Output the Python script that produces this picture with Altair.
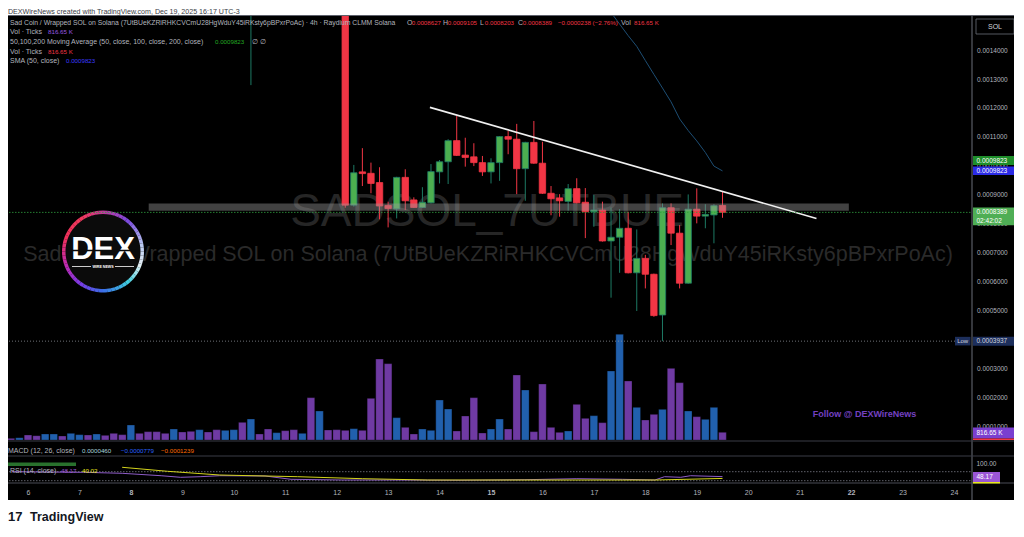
import altair as alt
import pandas as pd

# ------------------------------------------------------------------ data
# 4h candles, first visible candle = Dec 12 04:00, one candle every 1/6 day
first_candle_day = 12 + 4 / 24
candle_open = [0.001600, 0.000864, 0.000979, 0.000974, 0.000942, 0.000863, 0.000851, 0.000960, 0.000882, 0.000856,
               0.000872, 0.000979, 0.001014, 0.001087, 0.001037, 0.001031, 0.001011, 0.000979, 0.001011, 0.001101,
               0.001092, 0.000990, 0.001081, 0.001009, 0.000905, 0.000889, 0.000877, 0.000921, 0.000874, 0.000841,
               0.000847, 0.000740, 0.000753, 0.000784, 0.000630, 0.000680, 0.000625, 0.000484, 0.000855, 0.000767,
               0.000594, 0.000850, 0.000826, 0.000830, 0.0008627]
candle_high = [0.001640, 0.001003, 0.001061, 0.001011, 0.000995, 0.000876, 0.000962, 0.000988, 0.000891, 0.000926,
               0.001006, 0.001020, 0.001092, 0.001172, 0.001097, 0.001078, 0.001034, 0.001026, 0.001103, 0.001121,
               0.001145, 0.001083, 0.001155, 0.001083, 0.000930, 0.000902, 0.000937, 0.000957, 0.000923, 0.000899,
               0.000876, 0.000856, 0.000850, 0.000841, 0.000780, 0.000692, 0.000627, 0.000870, 0.000870, 0.000795,
               0.000901, 0.000922, 0.000867, 0.000867, 0.0009105]
candle_low = [0.000855, 0.000859, 0.000930, 0.000905, 0.000815, 0.000787, 0.000818, 0.000847, 0.000855, 0.000854,
              0.000870, 0.000939, 0.000937, 0.001034, 0.000997, 0.000999, 0.000965, 0.000939, 0.000948, 0.001040,
              0.000902, 0.000879, 0.001007, 0.000903, 0.000829, 0.000824, 0.000845, 0.000870, 0.000750, 0.000789,
              0.000738, 0.000544, 0.000630, 0.000628, 0.000498, 0.000576, 0.000478, 0.0003937, 0.000726, 0.000576,
              0.000592, 0.000801, 0.000784, 0.000732, 0.0008203]
candle_close = [0.000864, 0.000976, 0.000973, 0.000939, 0.000861, 0.000852, 0.000960, 0.000879, 0.000856, 0.000874,
                0.000980, 0.001014, 0.001087, 0.001036, 0.001029, 0.001011, 0.000979, 0.001011, 0.001101, 0.001092,
                0.000990, 0.001081, 0.001009, 0.000905, 0.000886, 0.000879, 0.000921, 0.000872, 0.000841, 0.000847,
                0.000740, 0.000753, 0.000784, 0.000630, 0.000680, 0.000625, 0.000482, 0.000855, 0.000767, 0.000594,
                0.000850, 0.000826, 0.000832, 0.000862, 0.0008389]

# earlier candle whose lower wick pokes into view (Dec 10 08:00)
early_day = [10 + 8 / 24]
early_open = [0.00170]
early_high = [0.00178]
early_low = [0.001279]
early_close = [0.00176]

# volume (K), 84 bars, last bar = last candle
volume_k = [177, 247, 530, 459, 636, 636, 424, 707, 565, 530,
            636, 495, 707, 565, 1590, 707, 883, 883, 707, 1166,
            848, 919, 1095, 848, 1095, 1025, 1095, 1873, 2226, 636,
            1166, 777, 989, 1095, 707, 4487, 3074, 1060, 1095, 1025,
            1201, 1025, 4417, 8586, 8091, 2367, 1343, 636, 1166, 1025,
            4240, 3286, 954, 2544, 4487, 742, 1166, 2226, 1166, 6890,
            5300, 883, 5936, 1343, 813, 954, 3781, 2297, 2579, 1837,
            7314, 11201, 6254, 3463, 2120, 2721, 3251, 7597, 6077, 3074,
            2473, 2191, 3463, 816.65]
volume_kind = list("PBPPBBPBBP" "BPPPBPPPPB" "PPBPPBBPBP" "PBPPBPBPPP" "BPPPPBPPBB"
                   "BBPPPPBBPP" "BPPPPBPPBP" "BBPBPPBPPB" "PBBP")

# SMA(50)
sma_day = [17.333, 17.5, 17.667, 17.833, 18.0, 18.167, 18.333, 18.5, 18.667, 18.833, 19.0, 19.167, 19.333, 19.5]
sma_val = [0.001530, 0.001490, 0.001450, 0.001413, 0.001364, 0.001316, 0.001269, 0.001221, 0.001162, 0.001122,
           0.001086, 0.001046, 0.000999, 0.0009823]

# drawn trend line and support band
trend_day = [13.813, 21.327]
trend_val = [0.001202, 0.000818]
band_day = [8.346, 21.956]
band_val = [0.000845, 0.000870]

last_price = 0.0008389
low_price = 0.0003937

# RSI pane
rsi_day = [5.685, 6.315, 7.073, 7.831, 8.588, 8.967, 9.346, 9.725, 10.608, 11.113, 12.123, 13.135,
           14.396, 15.66, 16.669, 17.554, 18.185, 18.373, 18.688, 18.879, 19.5]
rsi_val = [70.0, 68.7, 67.3, 62.9, 52.2, 45.1, 47.8, 52.2, 50.9, 36.2, 33.1, 33.1,
           31.8, 34.4, 38.9, 36.2, 33.1, 47.8, 45.1, 52.2, 48.17]
rsima_day = [7.83, 8.71, 9.73, 11.24, 12.5, 13.77, 15.66, 17.55, 18.19, 19.5]
rsima_val = [89.6, 71.8, 55.3, 47.8, 38.9, 33.1, 33.1, 33.1, 33.1, 40.02]

day_ticks = list(range(6, 25))
price_ticks = [0.0001, 0.0002, 0.0003, 0.0004, 0.0005, 0.0006, 0.0007, 0.0008, 0.0009, 0.0010,
               0.0011, 0.0012, 0.0013, 0.0014]

# ------------------------------------------------------------------ style
W, H = 1006, 516
FONT = "Liberation Sans"
GRAY = "#b2b5be"
RED = "#f23645"
GREEN = "#4caf50"
WICK_UP = "#1d7a64"
PURPLE = "#6f3aa3"
BLUE = "#2160ad"


def cx(px):
    return px - 8


def cy(py):
    return py - 8


PRICE_PX_PER_UNIT = 289200.0


def price_y(p):  # page y of a price (mirrors the price scale) for label boxes
    return 455 - p * PRICE_PX_PER_UNIT


xs = alt.Scale(domain=[6, 24], range=[15, 951], nice=False, zero=False)
ps = alt.Scale(domain=[0, 0.0014], range=[447, 447 - 0.0014 * PRICE_PX_PER_UNIT], nice=False, zero=False)
vs = alt.Scale(domain=[0, 10600], range=[432, 332], nice=False, zero=False)
rs = alt.Scale(domain=[30, 100], range=[472.7, 456.95], nice=False, zero=False)

xaxis = alt.Axis(orient="bottom", offset=-(H - 475), values=day_ticks, format="d", title=None,
                 domain=False, ticks=False, grid=False, labelFlush=False, labelOverlap=False,
                 labelColor=GRAY, labelFontSize=7, labelFont=FONT, labelPadding=5,
                 labelFontWeight={"condition": {"test": "datum.value == 8 || datum.value == 15 || datum.value == 22",
                                                "value": "bold"}, "value": "normal"})
paxis = alt.Axis(orient="right", offset=-42, values=price_ticks, format=".7f", title=None,
                 domain=False, ticks=False, grid=False, labelOverlap=False, labelFlush=False,
                 labelColor=GRAY, labelFontSize=6.5, labelFont=FONT, labelPadding=4.5, labelAlign="left")


def X(field):
    return alt.X(field, type="quantitative", scale=xs, axis=xaxis)


ONE = pd.DataFrame({"k": [0]})


def txt(s, x, y, size=7.0, color=GRAY, align="left", weight="normal", font=FONT, baseline="middle"):
    return alt.Chart(ONE).mark_text(text=s, align=align, baseline=baseline, fontSize=size, font=font,
                                    fontWeight=weight, color=color).encode(
        x=alt.value(cx(x)), y=alt.value(cy(y)))


def box(x1, y1, x2, y2, fill, opacity=1.0, stroke=None, sw=0):
    kw = dict(fill=fill, opacity=opacity)
    if stroke:
        kw.update(stroke=stroke, strokeWidth=sw)
    return alt.Chart(ONE).mark_rect(**kw).encode(
        x=alt.value(cx(x1)), x2=alt.value(cx(x2)), y=alt.value(cy(y1)), y2=alt.value(cy(y2)))


def hline(x1, x2, y, color, width=1.0, dash=None):
    kw = dict(color=color, strokeWidth=width)
    if dash:
        kw["strokeDash"] = dash
    return alt.Chart(ONE).mark_rule(**kw).encode(
        x=alt.value(cx(x1)), x2=alt.value(cx(x2)), y=alt.value(cy(y)))


def vline(x, y1, y2, color, width=1.0):
    return alt.Chart(ONE).mark_rule(color=color, strokeWidth=width).encode(
        x=alt.value(cx(x)), y=alt.value(cy(y1)), y2=alt.value(cy(y2)))


# ------------------------------------------------------------------ tables
candles = pd.DataFrame({
    "day": early_day + [first_candle_day + j / 6 for j in range(len(candle_open))],
    "open": early_open + candle_open,
    "high": early_high + candle_high,
    "low": early_low + candle_low,
    "close": early_close + candle_close,
})
vol = pd.DataFrame({
    "day": [19.5 - (len(volume_k) - 1 - i) / 6 for i in range(len(volume_k))],
    "vol": volume_k,
    "kind": volume_kind,
})
sma = pd.DataFrame({"day": sma_day, "v": sma_val})
trend = pd.DataFrame({"day": trend_day, "v": trend_val})
band = pd.DataFrame({"d1": [band_day[0]], "d2": [band_day[1]], "p1": [band_val[0]], "p2": [band_val[1]]})
rsi = pd.DataFrame({"day": rsi_day, "v": rsi_val})
rsima = pd.DataFrame({"day": rsima_day, "v": rsima_val})

up = "datum.close >= datum.open"

layers = []

# watermark
layers.append(txt("SADSOL_7UTBUE", 487, 212, size=46, color="#262626", align="center"))
layers.append(txt("Sad Coin / Wrapped SOL on Solana (7UtBUeKZRiRHKCVCmU28HgWduY45iRKsty6pBPxrPoAc)",
                  488, 255, size=21.5, color="#2a2a2a", align="center"))

# DEX logo
ring_keys = [(0, (0xc0, 0x3a, 0x9a)), (40, (0x7a, 0x4a, 0xe0)), (80, (0xb8, 0xc8, 0xf0)), (110, (0xe6, 0xf0, 0xf5)),
             (140, (0x40, 0xd0, 0xe0)), (180, (0x3a, 0x6e, 0xe6)), (215, (0x7a, 0x3a, 0xe6)),
             (250, (0xc0, 0x2a, 0xb0)), (290, (0xf0, 0x30, 0x5a)), (330, (0xf0, 0x3a, 0x5e)), (360, (0xc0, 0x3a, 0x9a))]


def ring_color(a):
    for (a0, c0), (a1, c1) in zip(ring_keys[:-1], ring_keys[1:]):
        if a0 <= a <= a1:
            t = (a - a0) / (a1 - a0)
            return "#%02x%02x%02x" % tuple(int(round(c0[k] + (c1[k] - c0[k]) * t)) for k in range(3))
    return "#c03a9a"


NSEG = 60
ring = pd.DataFrame({"i": list(range(NSEG)), "v": [1] * NSEG,
                     "c": [ring_color((i + 0.5) * 360 / NSEG) for i in range(NSEG)]})
layers.append(alt.Chart(ONE).mark_point(shape="circle", filled=True, color="#0b0b0b", opacity=1, size=80 * 80)
              .encode(x=alt.value(cx(103)), y=alt.value(cy(251.5))))
layers.append(alt.Chart(ring).mark_arc(innerRadius=37.5, outerRadius=41, padAngle=0).encode(
    theta=alt.Theta("v:Q", stack=True), order=alt.Order("i:Q"), fill=alt.Fill("c:N", scale=None),
    x=alt.value(cx(103)), y=alt.value(cy(251.5))))
layers.append(txt("DEX", 103, 249.5, size=31, color="white", align="center", weight="bold"))
layers.append(hline(70, 136, 250.5, "#0b0b0b", width=1.6))
layers.append(hline(72, 91, 266.5, "white", width=0.8))
layers.append(hline(115, 134, 266.5, "white", width=0.8))
layers.append(txt("WIRE NEWS", 103, 266.7, size=3.6, color="white", align="center", weight="bold"))

# volume
layers.append(alt.Chart(vol).mark_bar(size=7.6, stroke="#000000", strokeWidth=0.3).encode(
    x=X("day"), y=alt.Y("vol:Q", scale=vs, axis=None), y2=alt.datum(0),
    color=alt.Color("kind:N", scale=alt.Scale(domain=["P", "B"], range=[PURPLE, BLUE]), legend=None)))

# candles
layers.append(alt.Chart(candles).mark_rule(clip=True, strokeWidth=1).encode(
    x=X("day"), y=alt.Y("low:Q", scale=ps, axis=paxis), y2="high:Q",
    color=alt.condition(up, alt.value(WICK_UP), alt.value(RED))))
layers.append(alt.Chart(candles).mark_bar(size=6.4, clip=True, strokeWidth=0.8).encode(
    x=X("day"), y=alt.Y("open:Q", scale=ps, axis=None), y2="close:Q",
    fill=alt.condition(up, alt.value(GREEN), alt.value(RED)),
    stroke=alt.condition(up, alt.value(WICK_UP), alt.value(RED))))

# support band
layers.append(alt.Chart(band).mark_rect(fill="#9e9e9e", opacity=0.42).encode(
    x=X("d1"), x2="d2", y=alt.Y("p1:Q", scale=ps, axis=None), y2="p2:Q"))

# SMA + trend line
layers.append(alt.Chart(sma).mark_line(clip=True, strokeWidth=1, color="#1d4e74").encode(
    x=X("day"), y=alt.Y("v:Q", scale=ps, axis=None)))
layers.append(alt.Chart(trend).mark_line(strokeWidth=1.6, color="#f0f0f0").encode(
    x=X("day"), y=alt.Y("v:Q", scale=ps, axis=None)))

# price lines
layers.append(alt.Chart(pd.DataFrame({"p": [last_price]})).mark_rule(color="#2e9e3e", strokeWidth=0.8,
                                                                     strokeDash=[1.5, 1.5]).encode(
    y=alt.Y("p:Q", scale=ps, axis=None), x=alt.value(cx(6)), x2=alt.value(cx(972))))
layers.append(alt.Chart(pd.DataFrame({"p": [low_price]})).mark_rule(color="#8a8d96", strokeWidth=0.8,
                                                                    strokeDash=[1, 2]).encode(
    y=alt.Y("p:Q", scale=ps, axis=None), x=alt.value(cx(6)), x2=alt.value(cx(955))))

# RSI pane
layers.append(hline(6, 972, 471.7, "#787b86", width=0.8, dash=[1.5, 1.5]))
layers.append(hline(6, 972, 480.7, "#787b86", width=0.8, dash=[1.5, 1.5]))
layers.append(box(7, 462.5, 76, 466, "#2e7d32", opacity=0.9))
layers.append(alt.Chart(rsi).mark_line(strokeWidth=1, color="#8e5cc8").encode(
    x=X("day"), y=alt.Y("v:Q", scale=rs, axis=None)))
layers.append(alt.Chart(rsima).mark_line(strokeWidth=1, color="#d4d41c").encode(
    x=X("day"), y=alt.Y("v:Q", scale=rs, axis=None)))

# separators / frame
layers.append(vline(972, 15, 500, "#6b6e78", 1))
layers.append(hline(6, 1018, 441, "#3a3d46", 1))
layers.append(hline(6, 1018, 456, "#3a3d46", 1))
layers.append(hline(6, 1018, 483, "#4a4d56", 1))

# axis boxes
layers.append(box(973, 156, 1014, 165, "#1e8e2a"))
layers.append(txt("0.0009823", 976.5, 160.5, size=6.5, color="white"))
layers.append(box(973, 166.5, 1014, 175, "#2b2be6"))
layers.append(txt("0.0009823", 976.5, 170.8, size=6.5, color="white"))
yp = price_y(last_price)
layers.append(box(973, yp - 4.8, 1014, yp + 12.8, "#4fae55"))
layers.append(txt("0.0008389", 976.5, yp, size=6.5, color="white"))
layers.append(txt("02:42:02", 976.5, yp + 8.8, size=6.5, color="white"))
yl = price_y(low_price)
layers.append(box(955, yl - 4.3, 970.5, yl + 4.3, "#1d2f5c"))
layers.append(txt("Low", 962.7, yl, size=6, color="#d1d4dc", align="center"))
layers.append(box(973, yl - 4.5, 1014, yl + 4.5, "#1d2f5c"))
layers.append(txt("0.0003937", 976.5, yl, size=6.5, color="#d1d4dc"))
layers.append(box(973, 427.5, 1014, 438.5, "#7a3fd0"))
layers.append(box(973, 438.5, 1014, 440, "#f23645"))
layers.append(txt("816.65 K", 976.5, 433, size=6.5, color="white"))
layers.append(txt("100.00", 976.5, 463.5, size=6.5, color=GRAY))
layers.append(box(973, 472, 1000, 482, "#9a56d6"))
layers.append(box(973, 482, 1000, 483.5, "#e8e81a"))
layers.append(txt("48.17", 976.5, 477, size=6.5, color="white"))
layers.append(box(976, 19, 1014, 34, "#000000", stroke="#6b6e78", sw=0.8))
layers.append(txt("SOL", 995, 26.5, size=7, color="#d1d4dc", align="center"))

# watermark follow text
layers.append(txt("Follow @ DEXWireNews", 864.5, 414, size=9, color="#7440c0", align="center", weight="bold"))

# legend
LY = [22.5, 32.2, 42, 51.5, 61]
NUM = 6.2
layers.append(txt("Sad Coin / Wrapped SOL on Solana (7UtBUeKZRiRHKCVCmU28HgWduY45iRKsty6pBPxrPoAc) \u00b7 4h \u00b7 Raydium CLMM Solana",
                  10, LY[0], size=6.8))
for lab, xv, val in [("O", 407, "0.0008627"), ("H", 443, "0.0009105"), ("L", 480, "0.0008203"),
                     ("C", 518, "0.0008389")]:
    layers.append(txt(lab, xv, LY[0]))
    layers.append(txt(val, xv + 4.8, LY[0], size=NUM, color=RED))
layers.append(txt("\u22120.0000238 (\u22122.76%)", 558, LY[0], size=NUM, color=RED))
layers.append(txt("Vol", 621, LY[0]))
layers.append(txt("816.65 K", 634, LY[0], size=NUM, color=RED))
layers.append(txt("Vol \u00b7 Ticks", 10, LY[1]))
layers.append(txt("816.65 K", 48, LY[1], size=NUM, color="#9b59e0"))
layers.append(txt("50,100,200 Moving Average (50, close, 100, close, 200, close)", 10, LY[2]))
layers.append(txt("0.0009823", 215, LY[2], size=NUM, color="#22a822"))
layers.append(txt("\u2205  \u2205", 252, LY[2]))
layers.append(txt("Vol \u00b7 Ticks", 10, LY[3]))
layers.append(txt("816.65 K", 48, LY[3], size=NUM, color=RED))
layers.append(txt("SMA (50, close)", 10, LY[4]))
layers.append(txt("0.0009823", 66, LY[4], size=NUM, color="#3b3bff"))

# MACD / RSI legends
layers.append(txt("MACD (12, 26, close)", 8, 450.5))
layers.append(txt("0.0000460", 82, 450.5, size=NUM, color="#a9d6df"))
layers.append(txt("\u22120.0000779", 121, 450.5, size=NUM, color="#2962ff"))
layers.append(txt("\u22120.0001239", 161, 450.5, size=NUM, color="#ff6d00"))
layers.append(txt("RSI (14, close)", 10, 471))
layers.append(txt("48.17", 61, 471, size=NUM, color="#9a56d6"))
layers.append(txt("40.02", 82, 471, size=NUM, color="#e8e81a"))

# header / footer on white
layers.append(box(0, 0, 1030, 15, "white"))
layers.append(box(0, 500, 1030, 540, "white"))
layers.append(hline(6, 1018, 15.5, "#5d606b", 1))
layers.append(txt("DEXWireNews created with TradingView.com, Dec 19, 2025 16:17 UTC-3", 8, 11.6,
                  size=7.1, color="#3a3d46"))
layers.append(txt("17", 8, 517, size=13, color="#131722", weight="bold"))
layers.append(txt("TradingView", 30, 517, size=12.5, color="#131722", weight="bold"))

chart = alt.layer(*layers).resolve_scale(y="independent").properties(
    width=W, height=H, padding=0, autosize=alt.AutoSizeParams(type="none"), background="white"
).configure_view(fill="#000000", stroke=None)

chart.save("out.html", embed_options={"renderer": "svg", "actions": False})
